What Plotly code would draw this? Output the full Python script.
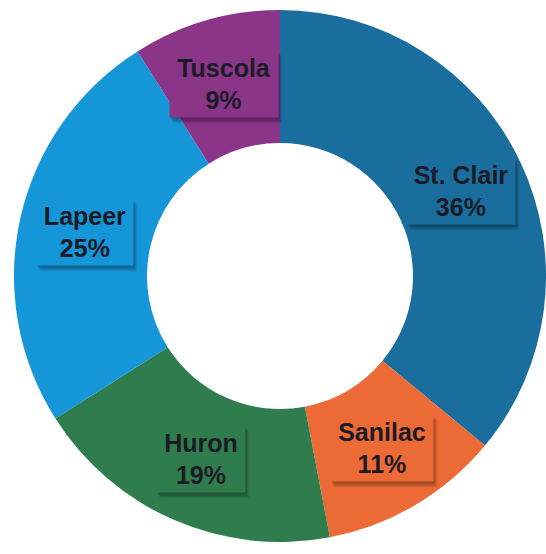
import math
import plotly.graph_objects as go

# County shares (percent), clockwise from 12 o'clock
counties = ["St. Clair", "Sanilac", "Huron", "Lapeer", "Tuscola"]
shares = [36, 11, 19, 25, 9]
colors = ["#1a6e9e", "#ec6a35", "#2f7d4c", "#1596d8", "#8a3588"]

W, H = 546, 554
CX, CY, R_OUT = 280, 276, 266
HOLE = 0.5
FONT_SIZE = 25

# Approximate Arial Bold advance widths (per 1000 em) for sizing label boxes
ADV = {"S": 667, "t": 333, ".": 278, " ": 278, "C": 722, "l": 278, "a": 556,
       "i": 278, "r": 389, "n": 611, "c": 556, "H": 722, "u": 611, "o": 611,
       "L": 611, "p": 611, "e": 556, "T": 611, "s": 556, "%": 889}


def text_width(s):
    return sum(ADV.get(ch, 556) for ch in s) * FONT_SIZE / 1000


fig = go.Figure(
    go.Pie(
        labels=counties,
        values=shares,
        sort=False,
        direction="clockwise",
        rotation=0,
        hole=HOLE,
        marker=dict(colors=colors, line=dict(width=0)),
        textinfo="none",
        hoverinfo="label+percent",
        domain=dict(
            x=[(CX - R_OUT) / W, min(1.0, (CX + R_OUT) / W)],
            y=[(H - CY - R_OUT) / H, (H - CY + R_OUT) / H],
        ),
        showlegend=False,
    )
)

# Label boxes at the middle of each ring segment, with a soft drop shadow
total = sum(shares)
r_mid = R_OUT * (1 + HOLE) / 2
font = dict(family="Liberation Sans, Arial, sans-serif", size=FONT_SIZE, color="#1b1b26")
annotations = []
start = 0.0
for name, val, col in zip(counties, shares, colors):
    mid = (start + val / 2) / total * 2 * math.pi
    start += val
    px = CX + r_mid * math.sin(mid)
    py = CY - r_mid * math.cos(mid)
    pct = f"{round(val / total * 100)}%"
    bw = round(max(text_width(name), text_width(pct)) + 14)
    bh = 66
    base = dict(x=px / W, y=1 - py / H, xref="paper", yref="paper",
                xanchor="center", yanchor="middle", showarrow=False,
                width=bw, height=bh, borderpad=0, align="center", valign="middle")
    for dx, dy, a in [(4, -6, 0.05), (3, -5, 0.08), (2, -4, 0.11), (1, -2, 0.12)]:
        annotations.append(dict(base, text=" ", font=font,
                                bgcolor=f"rgba(0,0,0,{a})", xshift=dx, yshift=dy))
    annotations.append(dict(base, text=f"<b>{name}</b><br><b>{pct}</b>",
                            font=font, bgcolor=col))

fig.update_layout(
    width=W, height=H,
    margin=dict(l=0, r=0, t=0, b=0),
    paper_bgcolor="white",
    plot_bgcolor="white",
    annotations=annotations,
)

fig.write_html("out.html")
